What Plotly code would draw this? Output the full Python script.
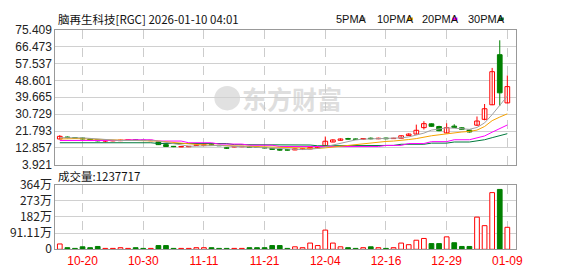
import plotly.graph_objects as go

# ---------------- data ----------------
dates = ["10-15","10-16","10-17","10-20","10-21","10-22","10-23","10-24","10-27","10-28","10-29","10-30","10-31",
         "11-03","11-04","11-05","11-06","11-07","11-10","11-11","11-12","11-13","11-14","11-17","11-18","11-19","11-20","11-21",
         "11-24","11-25","11-26","11-28",
         "12-01","12-02","12-03","12-04","12-05","12-08","12-09","12-10","12-11","12-12","12-15","12-16","12-17","12-18","12-19",
         "12-22","12-23","12-24","12-26","12-29","12-30","12-31",
         "01-02","01-05","01-06","01-07","01-08","01-09"]

opens  = [17.6,18.6,18.3,18.1,17.6,17.2,16.5,16.6,16.7,17.0,17.2,16.9,16.7,
          16.0,14.6,13.7,13.4,13.5,14.2,14.3,14.5,14.2,12.9,13.4,13.5,13.4,13.3,13.1,
          12.6,12.1,11.9,11.8,12.2,12.3,12.9,14.0,16.0,16.9,17.8,17.6,17.5,18.0,17.7,18.1,17.8,
          18.0,19.4,20.2,23.6,25.6,24.2,20.8,24.4,23.5,22.3,24.9,28.0,35.7,62.2,36.7]
highs  = [19.6,18.9,18.5,18.3,17.8,17.4,16.9,16.9,17.2,17.3,17.4,17.1,17.0,
          16.2,14.8,13.9,13.8,13.8,14.6,14.6,14.7,14.4,13.1,13.8,13.8,13.6,13.5,13.3,
          12.8,12.4,12.1,12.6,12.6,13.4,13.5,18.9,17.4,17.9,18.2,17.8,18.1,18.4,18.3,18.3,18.2,
          19.5,20.6,25.2,27.0,25.8,24.6,25.9,25.4,23.8,22.5,29.5,36.1,55.2,69.8,51.2]
lows   = [17.4,18.0,17.9,17.4,17.0,16.3,15.9,16.4,16.5,16.8,16.8,16.6,16.5,
          14.4,13.4,13.3,13.3,13.3,14.0,14.1,14.1,13.9,12.3,13.2,13.3,13.0,12.9,12.6,
          11.9,11.4,11.5,11.7,12.0,12.2,12.7,13.8,15.9,16.8,17.3,17.1,17.3,17.4,17.5,17.5,17.6,
          17.9,19.2,20.0,22.6,24.1,21.7,20.6,23.4,22.4,21.0,24.5,27.5,35.5,35.0,36.5]
closes = [19.0,18.4,18.1,17.6,17.2,16.6,16.7,16.7,17.0,17.1,16.9,16.8,16.8,
          14.6,13.6,13.5,13.6,13.6,14.4,14.5,14.3,14.0,12.7,13.6,13.6,13.2,13.1,12.8,
          12.1,11.7,11.7,12.4,12.4,13.1,13.3,16.4,17.1,17.6,17.5,17.4,17.8,17.7,18.0,17.7,18.0,
          19.3,20.2,22.2,25.7,24.3,22.0,23.6,23.7,22.7,21.3,27.1,33.6,53.2,42.0,45.3]

# volume in units of 万 (10,000 shares)
volumes_wan = [30,9,5,14,9,16,5,5,9,5,9,5,5,
               21,21,5,5,5,9,9,9,5,5,5,5,9,9,9,
               21,21,5,14,9,35,21,108,35,14,9,5,9,14,9,5,9,
               35,26,51,61,32,32,70,37,16,16,181,133,319,337,123.7717]

ma5  = [18.3,18.3,18.3,18.2,17.9,17.6,17.2,16.9,16.8,16.8,16.9,16.9,16.9,
        16.5,15.8,15.1,14.4,13.8,13.8,13.9,14.0,14.2,13.9,13.7,13.6,13.4,13.2,13.2,
        12.9,12.6,12.3,12.1,12.0,12.2,12.6,13.5,14.4,15.3,16.2,17.1,17.5,17.6,17.7,17.7,17.8,
        18.2,18.7,19.5,20.7,22.3,23.0,23.5,23.3,23.1,22.7,23.7,26.1,30.5,35.7,40.3]
ma10 = [17.6,17.8,17.8,17.7,17.5,17.3,17.2,17.1,17.0,16.9,16.8,16.8,16.7,
        16.5,16.1,15.7,15.3,15.0,14.7,14.5,14.3,14.1,13.9,13.8,13.8,13.7,13.6,13.5,
        13.3,13.1,12.9,12.8,12.7,12.6,12.6,12.9,13.3,13.8,14.3,14.8,15.3,15.7,16.0,16.3,16.5,
        16.8,17.3,17.8,18.6,19.3,19.8,20.4,20.9,21.3,21.6,22.3,24.2,27.3,29.2,30.9]
ma20 = [16.8,16.8,16.8,16.8,16.8,16.8,16.8,16.8,16.8,17.2,17.2,17.2,17.2,
        16.5,16.5,16.5,16.5,15.6,15.6,15.6,15.6,14.9,14.9,14.9,14.9,14.3,14.3,14.3,
        14.3,13.6,13.6,13.6,13.6,13.3,13.3,13.3,13.3,13.6,13.6,13.6,13.6,13.6,13.6,14.2,14.2,
        14.2,15.2,15.2,15.2,16.2,16.2,16.2,17.2,17.2,17.2,18.2,19.2,21.2,23.0,25.0]
ma30 = [15.6,15.6,15.6,15.6,15.6,15.6,15.6,15.6,15.6,15.6,15.6,15.6,15.6,
        15.2,15.2,15.2,15.2,15.2,15.2,15.2,15.2,15.2,15.2,14.6,14.6,14.6,14.6,14.6,
        14.6,14.6,14.4,14.4,14.4,14.4,14.0,14.0,14.0,14.0,14.2,14.2,14.2,14.2,14.2,14.2,14.2,
        14.8,14.8,14.8,14.8,15.4,15.4,15.4,16.0,16.0,16.0,16.6,17.2,18.3,19.3,20.4]

price_ticks = [3.921, 12.857, 21.793, 30.729, 39.665, 48.601, 57.537, 66.473, 75.409]
vol_tickvals_wan = [0, 91.11, 182.22, 273.33, 364.44]
vol_ticktext = ["0", "91.11万", "182万", "273万", "364万"]
date_labels = ["10-20","10-30","11-11","11-21","12-04","12-16","12-29","01-09"]

title_text = "脑再生科技[RGC] 2026-01-10 04:01"
vol_title = "成交量:1237717"
legend_items = [("5PMA", "#a0a0a0"), ("10PMA", "#f5a300"), ("20PMA", "#ff00ff"), ("30PMA", "#007a3d")]

# ---------------- styling ----------------
RED = "#ff0000"
GREEN = "#008000"
W, H = 578, 276
L_PX, R_PX = 56, 522
P_TOP, P_BOT = 21, 165
V_TOP, V_BOT = 186, 255

def px_x(px):
    return px / W

def px_y(py):
    return 1 - py / H

x = list(range(len(dates)))
up = [c >= o for o, c in zip(opens, closes)]

fig = go.Figure()

# wicks
for is_up, col in [(True, RED), (False, GREEN)]:
    wx, wy = [], []
    for i in x:
        if up[i] == is_up:
            wx += [i, i, None]
            wy += [lows[i], highs[i], None]
    fig.add_trace(go.Scatter(x=wx, y=wy, mode="lines", line=dict(color=col, width=1),
                             hoverinfo="skip", xaxis="x", yaxis="y"))

# bodies
MINH = 0.18
ux = [i for i in x if up[i]]
fig.add_trace(go.Bar(x=ux, base=[opens[i] for i in ux],
                     y=[max(closes[i] - opens[i], MINH) for i in ux],
                     width=0.62, marker=dict(color="white", line=dict(color=RED, width=1)),
                     xaxis="x", yaxis="y"))
dx = [i for i in x if not up[i]]
fig.add_trace(go.Bar(x=dx, base=[closes[i] for i in dx],
                     y=[max(opens[i] - closes[i], MINH) for i in dx],
                     width=0.62, marker=dict(color=GREEN, line=dict(color=GREEN, width=1)),
                     xaxis="x", yaxis="y"))

# moving averages
for arr, (_, col) in zip([ma30, ma20, ma10, ma5], legend_items[::-1]):
    fig.add_trace(go.Scatter(x=x, y=arr, mode="lines", line=dict(color=col, width=1),
                             xaxis="x", yaxis="y"))

# volume
fig.add_trace(go.Bar(x=ux, y=[volumes_wan[i] for i in ux], width=0.62,
                     marker=dict(color="white", line=dict(color=RED, width=1)),
                     xaxis="x2", yaxis="y2"))
fig.add_trace(go.Bar(x=dx, y=[volumes_wan[i] for i in dx], width=0.62,
                     marker=dict(color=GREEN, line=dict(color=GREEN, width=1)),
                     xaxis="x2", yaxis="y2"))

xr = [-0.59, 60.1]
tickvals_x = [dates.index(d) for d in date_labels]
axis_common = dict(showline=True, mirror=True, linecolor="#999999", linewidth=1,
                   zeroline=False, ticks="")
fig.update_layout(
    width=W, height=H, margin=dict(l=0, r=0, t=0, b=0),
    paper_bgcolor="white", plot_bgcolor="white",
    showlegend=False, barmode="overlay",
    xaxis=dict(domain=[px_x(L_PX), px_x(R_PX)], range=xr, tickvals=tickvals_x,
               showticklabels=False, showgrid=True, gridcolor="#cccccc", griddash="dash",
               anchor="y", **axis_common),
    yaxis=dict(domain=[px_y(P_BOT), px_y(P_TOP)], range=[price_ticks[0], price_ticks[-1]],
               tickvals=price_ticks, ticktext=[f"{v:.3f}" for v in price_ticks],
               showgrid=True, gridcolor="#d0d0d0",
               tickfont=dict(family="Liberation Sans", size=12, color="#222222"),
               anchor="x", **axis_common),
    xaxis2=dict(domain=[px_x(L_PX), px_x(R_PX)], range=xr, tickvals=tickvals_x,
                ticktext=date_labels, showgrid=True, gridcolor="#cccccc", griddash="dash",
                tickfont=dict(family="Liberation Sans", size=12, color=RED),
                anchor="y2", **axis_common),
    yaxis2=dict(domain=[px_y(V_BOT), px_y(V_TOP)], range=[0, 364.44],
                tickvals=vol_tickvals_wan, ticktext=vol_ticktext,
                showgrid=True, gridcolor="#d0d0d0",
                tickfont=dict(family="Noto Sans CJK SC", size=12, color="#222222"),
                anchor="x2", **axis_common),
)

ann = []
ann.append(dict(text=title_text, x=px_x(57), y=px_y(10), xref="paper", yref="paper",
                xanchor="left", yanchor="middle", showarrow=False,
                font=dict(family="Noto Sans CJK SC", size=11.5, color="#111111")))
ann.append(dict(text=vol_title, x=px_x(57), y=px_y(177), xref="paper", yref="paper",
                xanchor="left", yanchor="middle", showarrow=False,
                font=dict(family="Noto Sans CJK SC", size=11.5, color="#111111")))
leg_x = [338, 380, 425, 472]
shapes = []
for (name, col), lx in zip(legend_items, leg_x):
    ann.append(dict(text=name, x=px_x(lx), y=px_y(10), xref="paper", yref="paper",
                    xanchor="left", yanchor="middle", showarrow=False,
                    font=dict(family="Liberation Sans", size=11, color="#111111")))
    tw = 6.2 * len(name)
    shapes.append(dict(type="rect", xref="paper", yref="paper",
                       x0=px_x(lx + tw + 2), x1=px_x(lx + tw + 7),
                       y0=px_y(11), y1=px_y(8), fillcolor=col, line=dict(width=0)))
# watermark
ann.append(dict(text="<b>东方财富</b>", x=px_x(296), y=px_y(94), xref="paper", yref="paper",
                xanchor="center", yanchor="middle", showarrow=False,
                font=dict(family="Noto Sans CJK SC", size=25, color="rgba(200,200,200,0.6)")))
shapes.append(dict(type="circle", xref="paper", yref="paper",
                   x0=px_x(217), x1=px_x(243), y0=px_y(107), y1=px_y(81),
                   fillcolor="rgba(200,200,200,0.55)", line=dict(width=0), layer="below"))
fig.update_layout(annotations=ann, shapes=shapes)

fig.write_html("out.html")
